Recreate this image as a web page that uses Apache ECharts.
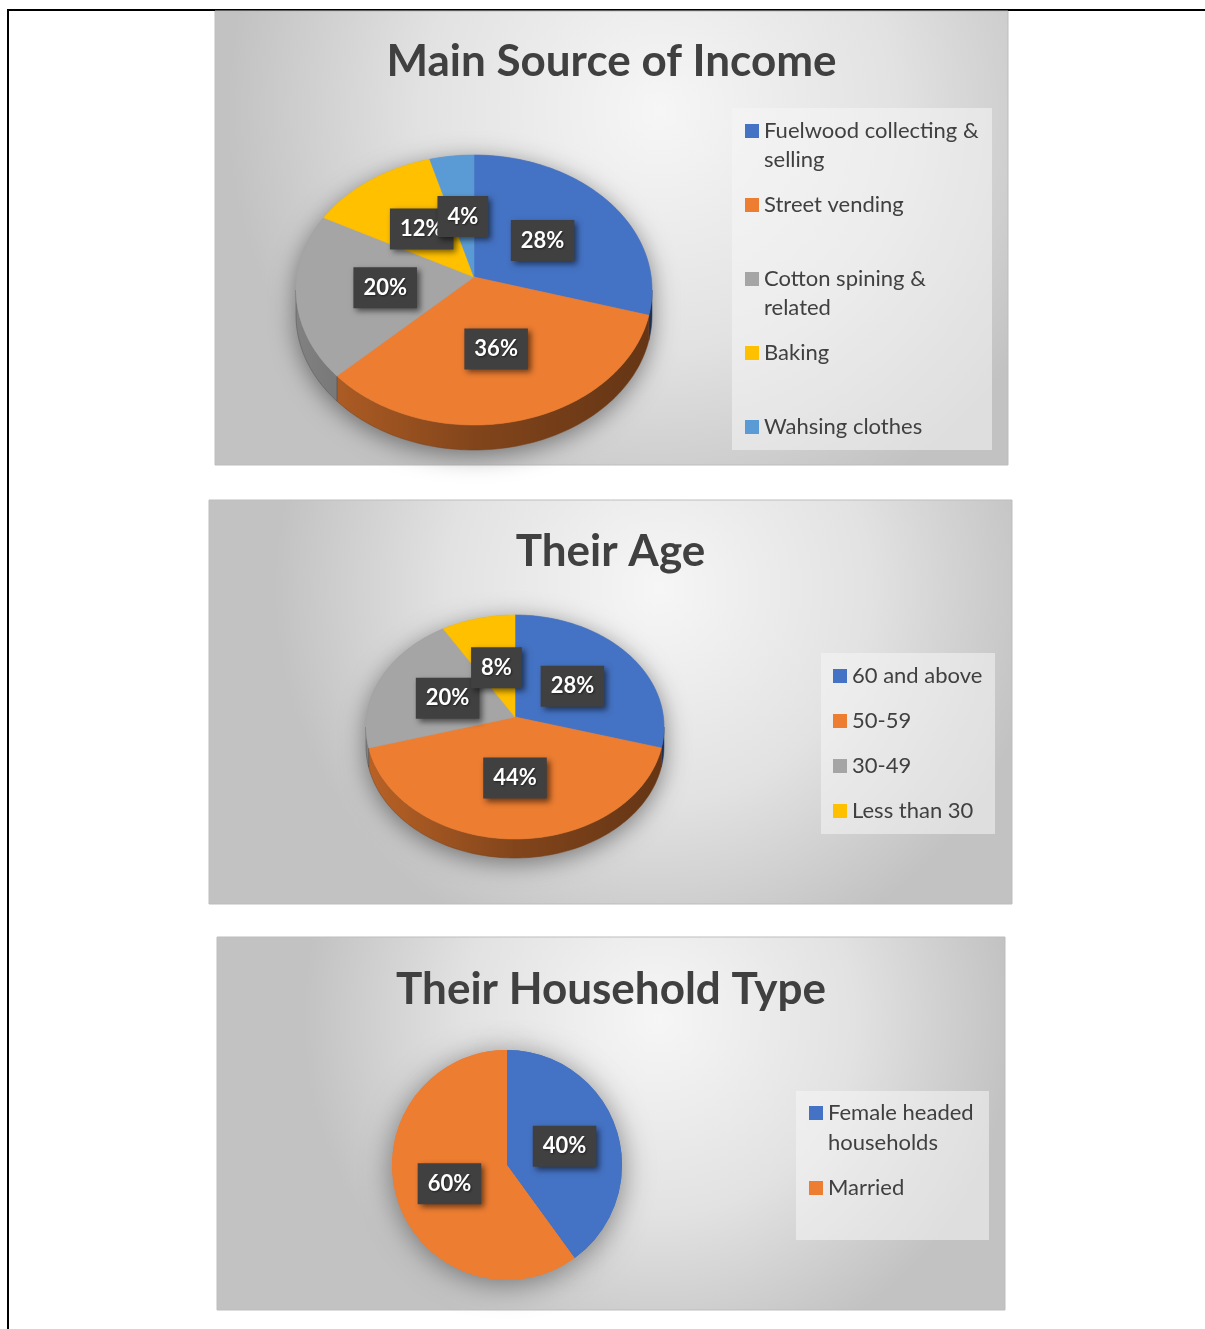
<!DOCTYPE html>
<html><head><meta charset="utf-8">
<script src="https://cdn.jsdelivr.net/npm/echarts@6/dist/echarts.min.js"></script>
<style>html,body{margin:0;padding:0;background:#fff}#c{width:1205px;height:1329px}</style>
</head><body><div id="c"></div><script>
// ---------- data ----------
const incomeTitle = 'Main Source of Income';
const incomeCategories = ['Fuelwood collecting & selling', 'Street vending', 'Cotton spining & related', 'Baking', 'Wahsing clothes'];
const incomeValues = [28, 36, 20, 12, 4];

const ageTitle = 'Their Age';
const ageCategories = ['60 and above', '50-59', '30-49', 'Less than 30'];
const ageValues = [28, 44, 20, 8];

const householdTitle = 'Their Household Type';
const householdCategories = ['Female headed households', 'Married'];
const householdValues = [40, 60];

// ---------- style ----------
const palette = ['#4472c4', '#ed7d31', '#a5a5a5', '#ffc000', '#5b9bd5'];
const FONT = 'Lato, "Open Sans", sans-serif';
const TEXT = '#404040';
const legendWrap = {
  'Fuelwood collecting & selling': ['Fuelwood collecting &', 'selling'],
  'Cotton spining & related': ['Cotton spining &', 'related'],
  'Female headed households': ['Female headed', 'households']
};

const panels = [
  { title: incomeTitle, cats: incomeCategories, vals: incomeValues,
    box: [215, 11, 793, 454], titleY: 62,
    pie3d: { cx: 474, cy: 290, apexY: 277, rx: 178, ry: 135, depth: 25 },
    legendBox: [732, 108, 260, 342], legendX: 745, legendY0: 131, legendStep: 74, lineH: 29 },
  { title: ageTitle, cats: ageCategories, vals: ageValues,
    box: [209, 500, 803, 404], titleY: 552,
    pie3d: { cx: 515, cy: 727, apexY: 717, rx: 149, ry: 112, depth: 19 },
    legendBox: [821, 653, 174, 181], legendX: 833, legendY0: 676, legendStep: 45, lineH: 29 },
  { title: householdTitle, cats: householdCategories, vals: householdValues,
    box: [217, 937, 788, 373], titleY: 990,
    pie2d: { cx: 507, cy: 1165, r: 115 },
    legendBox: [796, 1091, 193, 149], legendX: 809, legendY0: 1113, legendStep: 75, lineH: 30 }
];

function shade(hex, f) {
  const n = parseInt(hex.slice(1), 16);
  const r = Math.round(((n >> 16) & 255) * f), g = Math.round(((n >> 8) & 255) * f), b = Math.round((n & 255) * f);
  return 'rgb(' + r + ',' + g + ',' + b + ')';
}
const sum = a => a.reduce((s, v) => s + v, 0);

const labelStyle = {
  fill: '#ffffff', font: 'bold 22px ' + FONT, lineHeight: 26,
  backgroundColor: '#404040', padding: [8, 10, 7, 10],
  shadowBlur: 6, shadowColor: 'rgba(0,0,0,0.55)', shadowOffsetX: 3, shadowOffsetY: 3,
  textShadowBlur: 2, textShadowColor: 'rgba(0,0,0,0.5)', textShadowOffsetX: 1, textShadowOffsetY: 1
};

function makeRender(p, i) {
  const total = sum(p.vals);
  const before = sum(p.vals.slice(0, i));
  const g = p.pie3d;
  const color = palette[i];
  const rim = (t, dy) => [g.cx + g.rx * Math.sin(t), g.cy - g.ry * Math.cos(t) + (dy || 0)];
  return function (params, api) {
    const v = api.value(0);
    const a0 = before / total * 2 * Math.PI;
    const a1 = (before + v) / total * 2 * Math.PI;
    const children = [];
    const STEPS = 90;
    if (i === 0) {
      const pts = [];
      for (let k = 0; k <= STEPS; k++) pts.push(rim(-Math.PI / 2 + Math.PI * k / STEPS));
      for (let k = 0; k <= STEPS; k++) pts.push(rim(Math.PI / 2 + Math.PI * k / STEPS, g.depth));
      children.push({ type: 'polygon', z2: -10, shape: { points: pts },
        style: { fill: '#9a9a9a', shadowBlur: 24, shadowColor: 'rgba(0,0,0,0.45)', shadowOffsetY: 5 } });
    }
    const w0 = Math.max(a0, Math.PI / 2), w1 = Math.min(a1, 3 * Math.PI / 2);
    if (w1 > w0) {
      const n = Math.max(2, Math.ceil((w1 - w0) / (2 * Math.PI) * 240));
      const pts = [];
      for (let k = 0; k <= n; k++) pts.push(rim(w0 + (w1 - w0) * k / n));
      for (let k = n; k >= 0; k--) pts.push(rim(w0 + (w1 - w0) * k / n, g.depth));
      children.push({ type: 'polygon', shape: { points: pts },
        style: { fill: { type: 'linear', x: g.cx - g.rx, y: 0, x2: g.cx + g.rx, y2: 0, global: true,
          colorStops: [{ offset: 0, color: shade(color, 0.78) }, { offset: 0.5, color: shade(color, 0.55) }, { offset: 1, color: shade(color, 0.42) }] },
          stroke: shade(color, 0.5), lineWidth: 0.5 } });
    }
    const n2 = Math.max(2, Math.ceil((a1 - a0) / (2 * Math.PI) * 360));
    const face = [[g.cx, g.apexY]];
    for (let k = 0; k <= n2; k++) face.push(rim(a0 + (a1 - a0) * k / n2));
    children.push({ type: 'polygon', shape: { points: face }, style: { fill: color, stroke: color, lineWidth: 0.6 } });
    const mid = (a0 + a1) / 2;
    const rp = rim(mid);
    const lx = g.cx + 0.5 * (rp[0] - g.cx);
    const ly = g.apexY + 0.5 * (rp[1] - g.apexY);
    children.push({ type: 'text', z2: 100 + i,
      style: Object.assign({ text: v + '%', x: lx, y: ly, align: 'center', verticalAlign: 'middle' }, labelStyle) });
    return { type: 'group', children: children };
  };
}

const graphics = [];
const series = [];
const legends = [];

// page frame
graphics.push({ type: 'line', z: -20, shape: { x1: 8, y1: 10, x2: 1205, y2: 10 }, style: { stroke: '#000', lineWidth: 2 } });
graphics.push({ type: 'line', z: -20, shape: { x1: 8, y1: 9, x2: 8, y2: 1329 }, style: { stroke: '#000', lineWidth: 2 } });

panels.forEach((p, pi) => {
  const [bx, by, bw, bh] = p.box;
  graphics.push({ type: 'rect', z: -15, shape: { x: bx, y: by, width: bw, height: bh },
    style: { fill: { type: 'radial', x: 0.56, y: 0.22, r: 0.95,
      colorStops: [{ offset: 0, color: '#f6f6f6' }, { offset: 0.55, color: '#e2e2e2' }, { offset: 1, color: '#c2c2c2' }] },
      stroke: '#bdbdbd', lineWidth: 1 } });
  graphics.push({ type: 'text', z: 5, style: { text: p.title, x: bx + bw / 2, y: p.titleY, align: 'center', verticalAlign: 'middle',
    font: 'bold 44px ' + FONT, fill: TEXT } });
  const [lx, ly, lw, lh] = p.legendBox;
  graphics.push({ type: 'rect', z: -5, shape: { x: lx, y: ly, width: lw, height: lh },
    style: { fill: 'rgba(246,246,246,0.55)' } });

  if (p.pie3d) {
    p.cats.forEach((name, i) => {
      series.push({ type: 'custom', name: name, coordinateSystem: 'none', silent: true, animation: false,
        itemStyle: { color: palette[i] }, data: [p.vals[i]], renderItem: makeRender(p, i) });
    });
  } else {
    const g = p.pie2d;
    const data = p.cats.map((n, i) => ({ name: n, value: p.vals[i], itemStyle: { color: palette[i] } }));
    series.push({ type: 'pie', name: 'shadow', silent: true, animation: false, z: 1,
      center: [g.cx, g.cy], radius: g.r, startAngle: 90, clockwise: true, label: { show: false }, labelLine: { show: false },
      itemStyle: { shadowBlur: 30, shadowColor: 'rgba(0,0,0,0.45)', shadowOffsetY: 4 }, data: data });
    series.push({ type: 'pie', name: 'household', silent: true, animation: false, z: 3,
      center: [g.cx, g.cy], radius: g.r, startAngle: 90, clockwise: true, emphasis: { scale: false },
      labelLine: { show: false },
      label: { show: true, position: 'inside', formatter: '{c}%', color: '#fff', fontFamily: FONT, fontWeight: 'bold', fontSize: 22,
        lineHeight: 26, backgroundColor: '#404040', padding: [8, 10, 7, 10],
        shadowBlur: 6, shadowColor: 'rgba(0,0,0,0.55)', shadowOffsetX: 3, shadowOffsetY: 3,
        textShadowBlur: 2, textShadowColor: 'rgba(0,0,0,0.5)', textShadowOffsetX: 1, textShadowOffsetY: 1 },
      itemStyle: { borderWidth: 0 }, data: data });
  }

  p.cats.forEach((name, i) => {
    const lines = legendWrap[name] || [name];
    const nl = lines.length;
    const boxH = (2 * nl - 1) * p.lineH;
    const text = Array(nl - 1).fill(' ').concat(lines).join('\n');
    legends.push({ orient: 'vertical', left: p.legendX, top: p.legendY0 + i * p.legendStep - boxH / 2,
      padding: 0, itemWidth: 14, itemHeight: 14, icon: 'rect', align: 'left', selectedMode: false,
      data: [{ name: name, itemStyle: { color: palette[i] } }],
      formatter: () => text,
      textStyle: { fontFamily: FONT, fontSize: 22, color: TEXT, lineHeight: p.lineH } });
  });
});

const chart = echarts.init(document.getElementById('c'), null, { renderer: 'canvas' });
chart.setOption({ animation: false, backgroundColor: '#ffffff', graphic: graphics, legend: legends, series: series });
</script></body></html>
